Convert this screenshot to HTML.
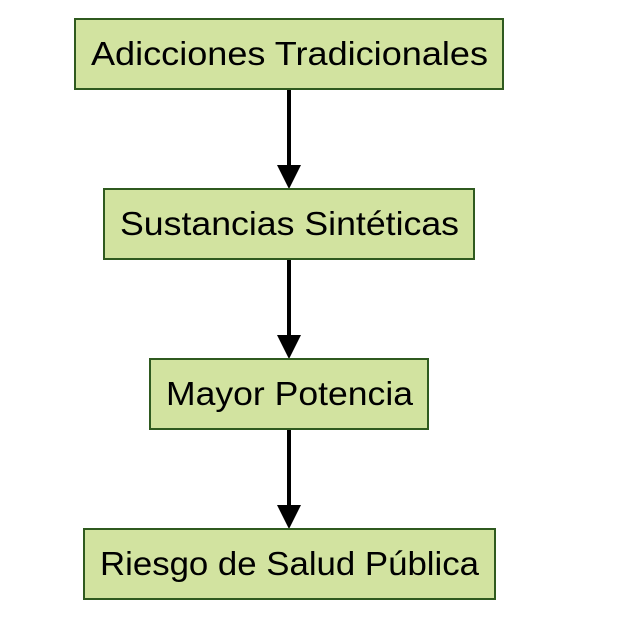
<!DOCTYPE html>
<html>
<head>
<meta charset="utf-8">
<style>
html,body{margin:0;padding:0;background:#fff;width:622px;height:626px;overflow:hidden}
svg{display:block}
rect{fill:#d2e3a0;stroke:#2f5a1f;stroke-width:2}
text{font-family:"Liberation Sans",sans-serif;font-size:33px;fill:#000}
line{stroke:#000;stroke-width:4}
</style>
</head>
<body>
<svg width="622" height="626" viewBox="0 0 622 626" xmlns="http://www.w3.org/2000/svg">
<line x1="289" y1="89" x2="289" y2="168"/>
<polygon points="277,165 301,165 289,189" fill="#000"/>
<line x1="289" y1="259" x2="289" y2="338"/>
<polygon points="277,335 301,335 289,359" fill="#000"/>
<line x1="289" y1="429" x2="289" y2="508"/>
<polygon points="277,505 301,505 289,529" fill="#000"/>
<rect x="75" y="19" width="428" height="70"/>
<rect x="104" y="189" width="370" height="70"/>
<rect x="150" y="359" width="278" height="70"/>
<rect x="84" y="529" width="411" height="70"/>
<text x="91" y="65" textLength="397" lengthAdjust="spacingAndGlyphs">Adicciones Tradicionales</text>
<text x="120" y="235" textLength="339" lengthAdjust="spacingAndGlyphs">Sustancias Sintéticas</text>
<text x="166" y="405" textLength="247" lengthAdjust="spacingAndGlyphs">Mayor Potencia</text>
<text x="100" y="575" textLength="379" lengthAdjust="spacingAndGlyphs">Riesgo de Salud Pública</text>
</svg>
</body>
</html>
